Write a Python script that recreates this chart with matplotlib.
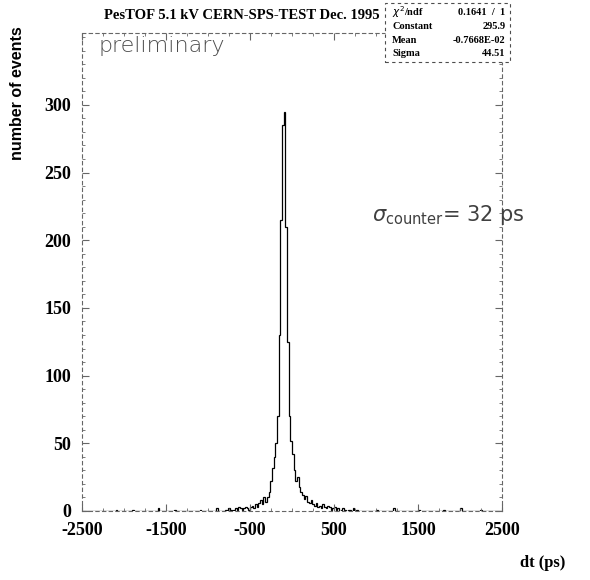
import matplotlib
matplotlib.use("Agg")
import matplotlib.pyplot as plt
import numpy as np
from matplotlib.patches import Rectangle

plt.rcParams["axes.unicode_minus"] = False

# histogram of dt, 20 ps bins, dense part from -800 to +800 ps
bin_width = 20
dense_start = -800
dense_counts = [
    1, 0, 2, 1, 0, 1, 2, 1, 3, 2, 1, 2, 3, 2, 1,          # -800 .. -500
    3, 4, 2, 5, 3, 6, 8, 5, 10, 7,                         # -500 .. -300
    10, 14, 22, 32, 40,                                    # -300 .. -200
    50, 70, 130, 215, 285,                                 # -200 .. -100
    295, 210, 125, 70, 52,                                 # -100 .. 0
    42, 30, 22, 25, 18,                                    # 0 .. 100
    14, 12, 9, 11, 7, 6, 8, 5, 4, 6,                       # 100 .. 300
    3, 4, 2, 5, 3, 2, 4, 3, 1, 2, 3, 1, 2, 0, 1,
    2, 1, 0, 1, 1, 0, 2, 0, 1, 0,                          # 300 .. 800
]
# isolated entries far out in the tails (bin left edge, count)
tail_edges = [-2100, -1900, -1600, -1400, -1100, -900, 1000, 1200, 1500, 1800, 2000, 2240]
tail_counts = [1, 1, 2, 1, 1, 2, 1, 2, 1, 1, 2, 1]

edges = np.arange(-2500, 2500 + bin_width, bin_width)
counts = np.zeros(len(edges) - 1)
i0 = (dense_start + 2500) // bin_width
counts[i0:i0 + len(dense_counts)] = dense_counts
for e, c in zip(tail_edges, tail_counts):
    counts[(e + 2500) // bin_width] = c

fig = plt.figure(figsize=(5.9, 5.8), dpi=100)
ax = fig.add_axes([0.139, 0.119, 0.712, 0.824])

ax.stairs(counts, edges, color="black", lw=0.9)

ax.set_xlim(-2500, 2500)
ax.set_ylim(0, 353)
ax.set_xticks([-2500, -1500, -500, 500, 1500, 2500])
ax.set_yticks([0, 50, 100, 150, 200, 250, 300])
ax.set_xticks(np.arange(-2500, 2501, 250), minor=True)
ax.set_yticks(np.arange(0, 351, 10), minor=True)
ax.tick_params(which="both", direction="in", top=True, right=True, color="0.4")
ax.tick_params(which="major", length=5, labelsize=13, pad=8)
ax.tick_params(which="minor", length=2.5)
for lab in ax.get_xticklabels() + ax.get_yticklabels():
    lab.set_fontfamily("Liberation Serif")
    lab.set_fontweight("bold")
for s in ax.spines.values():
    s.set_linestyle((0, (3, 3)))
    s.set_color("0.4")
    s.set_linewidth(0.8)

fig.text(0.41, 0.974, "PesTOF 5.1 kV CERN-SPS-TEST Dec. 1995", ha="center", va="center",
         fontsize=10.5, family="Liberation Serif", fontweight="bold")
fig.text(0.03, 0.84, "number of events", rotation=90, ha="center", va="center",
         fontsize=11.5, family="Liberation Sans", fontweight="bold")
fig.text(0.92, 0.03, "dt (ps)", ha="center", va="center",
         fontsize=12, family="Liberation Serif", fontweight="bold")

ax.text(0.04, 0.972, "preliminary", transform=ax.transAxes, ha="left", va="center",
        fontsize=16, color="0.3", family="DejaVu Sans", fontweight="light")
ax.text(0.69, 0.62, r"$\sigma_{\rm counter}$= 32 ps", transform=ax.transAxes, ha="left",
        va="center", fontsize=15, color="0.25", family="DejaVu Sans", clip_on=False)

# fit statistics box
bx0, by0, bw, bh = 0.653, 0.893, 0.212, 0.102
fig.patches.append(Rectangle((bx0, by0), bw, bh, transform=fig.transFigure,
                             facecolor="white", edgecolor="0.3", lw=0.8,
                             linestyle=(0, (3, 3)), zorder=5))
rows = [(r"$\chi^2$/ndf", "0.1641  /  1"), ("Constant", "295.9"),
        ("Mean", "-0.7668E-02"), ("Sigma", "44.51")]
for k, (name, val) in enumerate(rows):
    y = by0 + bh - 0.016 - k * 0.024
    fig.text(bx0 + 0.012, y, name, ha="left", va="center", fontsize=7.5,
             family="Liberation Serif", fontweight="bold", zorder=6)
    fig.text(bx0 + bw - 0.008, y, val, ha="right", va="center", fontsize=7.5,
             family="Liberation Serif", fontweight="bold", zorder=6)

fig.savefig("out.png", dpi=100)
